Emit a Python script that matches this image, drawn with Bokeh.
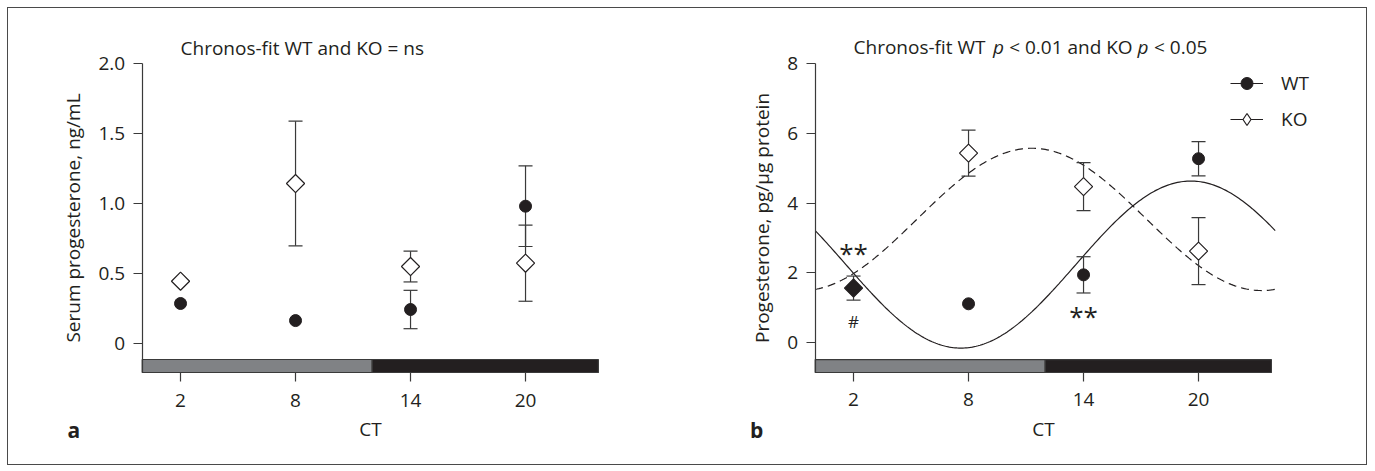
import math
import numpy as np
from bokeh.plotting import figure
from bokeh.layouts import row
from bokeh.models import (ColumnDataSource, Label, Legend, LegendItem,
                          FixedTicker, Range1d, NumeralTickFormatter)
from bokeh.core.properties import value
from bokeh.embed import file_html
from bokeh.resources import INLINE

# ---------------- data ----------------
ct = [2, 8, 14, 20]
ct_labels = ["2", "8", "14", "20"]

# panel a: serum progesterone, ng/mL (mean, SEM)
serum_wt = [0.286, 0.164, 0.243, 0.981]
serum_wt_sem = [0.0, 0.0, 0.137, 0.288]
serum_ko = [0.445, 1.143, 0.550, 0.574]
serum_ko_sem = [0.0, 0.445, 0.110, 0.272]
serum_yticks = [0, 0.5, 1.0, 1.5, 2.0]
serum_ylabels = ["0", "0.5", "1.0", "1.5", "2.0"]

# panel b: progesterone, pg/ug protein (mean, SEM)
tissue_wt = [1.56, 1.11, 1.94, 5.27]
tissue_wt_sem = [0.0, 0.0, 0.52, 0.49]
tissue_ko = [1.56, 5.43, 4.47, 2.62]
tissue_ko_sem = [0.345, 0.66, 0.69, 0.96]
tissue_yticks = [0, 2, 4, 6, 8]
tissue_ylabels = ["0", "2", "4", "6", "8"]

# Chronos cosinor fits: mesor, amplitude, acrophase (h)
fit_wt = [2.235, 2.395, 19.6]
fit_ko = [3.53, 2.04, 11.3]
period = 24

# light / dark phases (CT)
light_dark = [0, 12, 23.8]

# significance marks in panel b
sig_text = ["**", "#", "**"]
sig_x = [2, 2, 14]
sig_y = [2.73, 0.60, 0.92]

# ---------------- style ----------------
FONT = "Open Sans"
INK = "#231f20"
AX = "#3a3a3a"
GRAY = "#808285"
FS = "19px"
NAN = float("nan")


def style_axes(p):
    for ax in (p.xaxis[0], p.yaxis[0]):
        ax.axis_line_color = AX
        ax.axis_line_width = 1.2
        ax.major_tick_line_color = AX
        ax.major_tick_line_width = 1.2
        ax.major_tick_out = 9
        ax.major_tick_in = 0
        ax.minor_tick_line_color = None
        ax.major_label_text_font = FONT
        ax.major_label_text_font_size = FS
        ax.major_label_text_color = INK
        ax.axis_label_text_font = FONT
        ax.axis_label_text_font_size = FS
        ax.axis_label_text_font_style = "normal"
        ax.axis_label_text_color = INK


def overrides(ticks, labels):
    d = {}
    for t, l in zip(ticks, labels):
        d[t] = l
        d[str(int(t)) if float(t).is_integer() else str(t)] = l
    return d


def make_panel(width, xr, yr, yticks, ylabels, ylabel, bar_y):
    p = figure(output_backend="svg", toolbar_location=None,
               frame_width=width, frame_height=456,
               x_range=Range1d(*xr), y_range=Range1d(*yr),
               min_border=0)
    p.outline_line_color = None
    p.grid.visible = False
    p.background_fill_color = "white"
    p.border_fill_color = "white"
    style_axes(p)
    p.xaxis.fixed_location = bar_y[0]
    p.yaxis.fixed_location = light_dark[0]
    p.xaxis.ticker = FixedTicker(ticks=ct)
    p.xaxis.major_label_overrides = overrides(ct, ct_labels)
    p.xaxis.bounds = (light_dark[0], light_dark[-1])
    p.xaxis.axis_label = "CT"
    p.xaxis.major_label_standoff = 12
    p.xaxis.axis_label_standoff = 6
    p.yaxis.ticker = FixedTicker(ticks=yticks)
    p.yaxis.formatter = NumeralTickFormatter(format="0.0" if yticks[1] < 1 else "0")
    p.yaxis.major_label_overrides = overrides(yticks, ylabels)
    p.yaxis.bounds = (bar_y[0], yticks[-1])
    p.yaxis.axis_label = ylabel
    p.yaxis.major_label_standoff = 8
    p.yaxis.axis_label_standoff = 10
    # light/dark bar
    p.quad(left=light_dark[:-1], right=light_dark[1:], bottom=bar_y[0], top=bar_y[1],
           fill_color=[GRAY, INK], line_color=AX, line_width=1.2)
    return p


def errorbars(p, xs, ys, es):
    xx = [x for x, e in zip(xs, es) if e > 0]
    lo = [y - e for y, e in zip(ys, es) if e > 0]
    hi = [y + e for y, e in zip(ys, es) if e > 0]
    p.segment(x0=xx, y0=lo, x1=xx, y1=hi, line_color=AX, line_width=1.2)
    p.scatter(xx + xx, lo + hi, marker="dash", size=14, line_color=AX, line_width=1.2)


def markers(p, xs, ys, kind, fills=None):
    if kind == "wt":
        return p.scatter(xs, ys, marker="circle", size=12, fill_color=INK, line_color=INK)
    src = ColumnDataSource(dict(x=xs, y=ys, fill=fills or ["white"] * len(xs)))
    return p.scatter("x", "y", source=src, marker="square", size=12.8, angle=math.pi / 4,
                     fill_color="fill", line_color=INK, line_width=1.2)


def label(p, x, y, text, x_offset=0, style="normal", size=FS, align="left"):
    p.add_layout(Label(x=x, y=y, text=text, x_offset=x_offset, text_font=FONT,
                       text_font_size=size, text_font_style=style, text_color=INK,
                       text_baseline="middle", text_align=align))


# ---------------- panel a ----------------
pa = make_panel(680, (-6.976, 28.503), (-0.864, 2.393), serum_yticks, serum_ylabels,
                "Serum progesterone, ng/mL", (-0.207, -0.114))
errorbars(pa, ct, serum_wt, serum_wt_sem)
errorbars(pa, ct, serum_ko, serum_ko_sem)
markers(pa, ct, serum_wt, "wt")
markers(pa, ct, serum_ko, "ko")
label(pa, 2, 2.114, "Chronos-fit WT and KO = ns")
label(pa, -3.9, -0.621, "a", style="bold", size="21px")

# ---------------- panel b ----------------
pb = make_panel(678, (-6.61, 28.763), (-3.498, 9.577), tissue_yticks, tissue_ylabels,
                "Progesterone, pg/µg protein", (-0.86, -0.49))
xs = np.linspace(0, 24, 241)


def cosinor(params):
    m, a, phi = params
    return m + a * np.cos(2 * np.pi * (xs - phi) / period)


c_wt = pb.line(xs, cosinor(fit_wt), line_color=INK, line_width=1.2)
c_ko = pb.line(xs, cosinor(fit_ko), line_color=INK, line_width=1.2, line_dash="8 5")
errorbars(pb, ct, tissue_wt, tissue_wt_sem)
errorbars(pb, ct, tissue_ko, tissue_ko_sem)
r_wt = markers(pb, ct, tissue_wt, "wt")
r_ko = markers(pb, ct, tissue_ko, "ko", fills=[INK, "white", "white", "white"])
pb.text(x=sig_x, y=sig_y, text=sig_text, text_font=value(FONT),
        text_font_size=["26px", "17px", "26px"], text_color=INK,
        text_align="center", text_baseline="middle", y_offset=[6, 0, 6])

# legend keys (undrawn samples: solid key line + diamond)
key_line = pb.line([NAN, NAN], [NAN, NAN], line_color=INK, line_width=1.2)
ko_key = pb.scatter([NAN], [NAN], marker="diamond", size=18,
                    fill_color="white", line_color=INK, line_width=1.2)
leg = Legend(items=[LegendItem(label="WT", renderers=[key_line, r_wt]),
                    LegendItem(label="KO", renderers=[key_line, ko_key])],
             location=(542, 330), orientation="vertical",
             glyph_width=33, glyph_height=30, label_height=30, spacing=6,
             label_standoff=18, padding=0, margin=0,
             border_line_color=None, background_fill_alpha=0,
             label_text_font=FONT, label_text_font_size=FS, label_text_color=INK)
pb.add_layout(leg)

# title with italic p
label(pb, 2, 8.46, "Chronos-fit WT")
label(pb, 2, 8.46, "p", x_offset=139.5, style="italic")
label(pb, 2, 8.46, "< 0.01 and KO", x_offset=155.6)
label(pb, 2, 8.46, "p", x_offset=284.0, style="italic")
label(pb, 2, 8.46, "< 0.05", x_offset=300.5)
label(pb, -3.4, -2.523, "b", style="bold", size="21px")

layout = row(pa, pb, margin=(7, 0, 0, 7), styles={"border": "1px solid #4a4a4a"})
open("out.html", "w").write(file_html(layout, INLINE))
